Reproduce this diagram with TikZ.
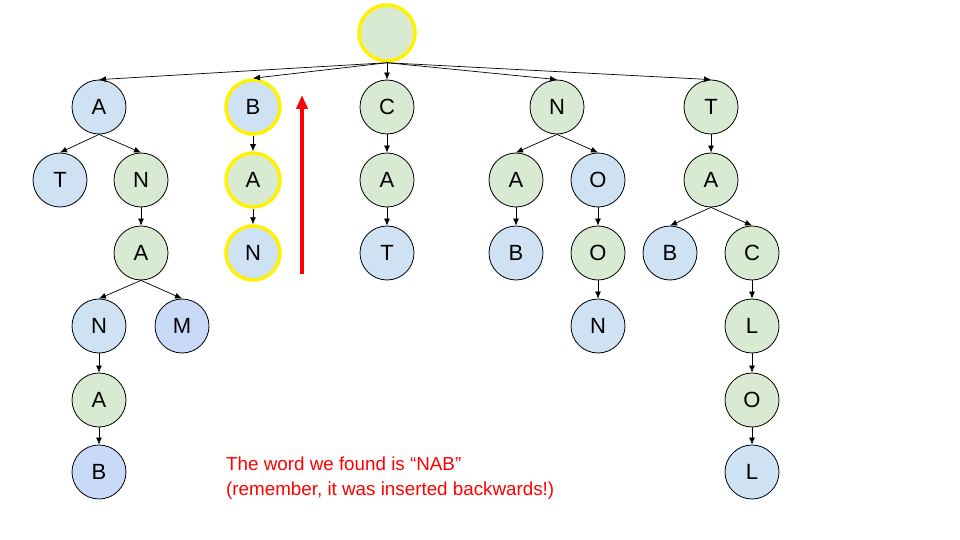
\documentclass[tikz,border=0pt]{standalone}
\usepackage{fontspec}
\setmainfont{Liberation Sans}
\usetikzlibrary{arrows.meta}
\definecolor{leafblue}{HTML}{CFE2F3}
\definecolor{midgreen}{HTML}{D9EAD3}
\definecolor{deepblue}{HTML}{C9DAF8}
\begin{document}
\begin{tikzpicture}[x=1pt,y=-1pt,
  letter/.style={circle,draw,line width=0.8pt,minimum size=54pt,inner sep=0pt,
    font=\fontsize{22}{24}\selectfont},
  bl/.style={letter,fill=leafblue},
  gr/.style={letter,fill=midgreen},
  pb/.style={letter,fill=deepblue},
  found/.style={draw=yellow,line width=3.5pt},
  link/.style={-{Latex[length=7pt,width=6pt]},line width=0.7pt}]
\fill[white] (0,0) rectangle (960,540);
% root and first letters
\node[gr,found,minimum size=56pt] (root) at (387,33) {};
\node[bl] (a) at (99,107) {A};
\node[bl,found] (b) at (253,107) {B};
\node[gr] (c) at (387,107) {C};
\node[gr] (n) at (557,107) {N};
\node[gr] (t) at (711,107) {T};
% second letters
\node[bl] (at) at (60,180) {T};
\node[gr] (an) at (141,180) {N};
\node[gr,found] (ba) at (253,180) {A};
\node[gr] (ca) at (387,180) {A};
\node[gr] (na) at (516,180) {A};
\node[bl] (no) at (598,180) {O};
\node[gr] (ta) at (711,180) {A};
% third letters
\node[gr] (ana) at (141,253) {A};
\node[bl,found] (ban) at (253,253) {N};
\node[bl] (cat) at (387,253) {T};
\node[bl] (nab) at (516,253) {B};
\node[gr] (noo) at (598,253) {O};
\node[bl] (tab) at (670,253) {B};
\node[gr] (tac) at (752,253) {C};
% deeper letters
\node[bl] (anan) at (99,326) {N};
\node[pb] (anam) at (182,326) {M};
\node[bl] (noon) at (598,326) {N};
\node[gr] (tacl) at (752,326) {L};
\node[gr] (anana) at (99,400) {A};
\node[gr] (taclo) at (752,400) {O};
\node[pb] (ananab) at (99,472) {B};
\node[bl] (taclol) at (752,472) {L};
\foreach \p/\c in {root/a,root/b,root/c,root/n,root/t,
  a/at,a/an,an/ana,ana/anan,ana/anam,anan/anana,anana/ananab,
  b/ba,ba/ban,c/ca,ca/cat,n/na,n/no,na/nab,no/noo,noo/noon,
  t/ta,ta/tab,ta/tac,tac/tacl,tacl/taclo,taclo/taclol}
  \draw[link] (\p.south) -- (\c.north);
% read upwards
\coordinate (upstart) at (302,274);
\coordinate (upend) at (302,95);
\draw[red,line width=3.5pt,-{Triangle[length=14pt,width=11pt]}] (upstart) -- (upend);
\node[red,anchor=north west,align=left,inner sep=0pt,
  font=\fontsize{18.8}{25}\selectfont] (note) at (226,457)
  {The word we found is “NAB”\\(remember, it was inserted backwards!)};
\end{tikzpicture}
\end{document}
